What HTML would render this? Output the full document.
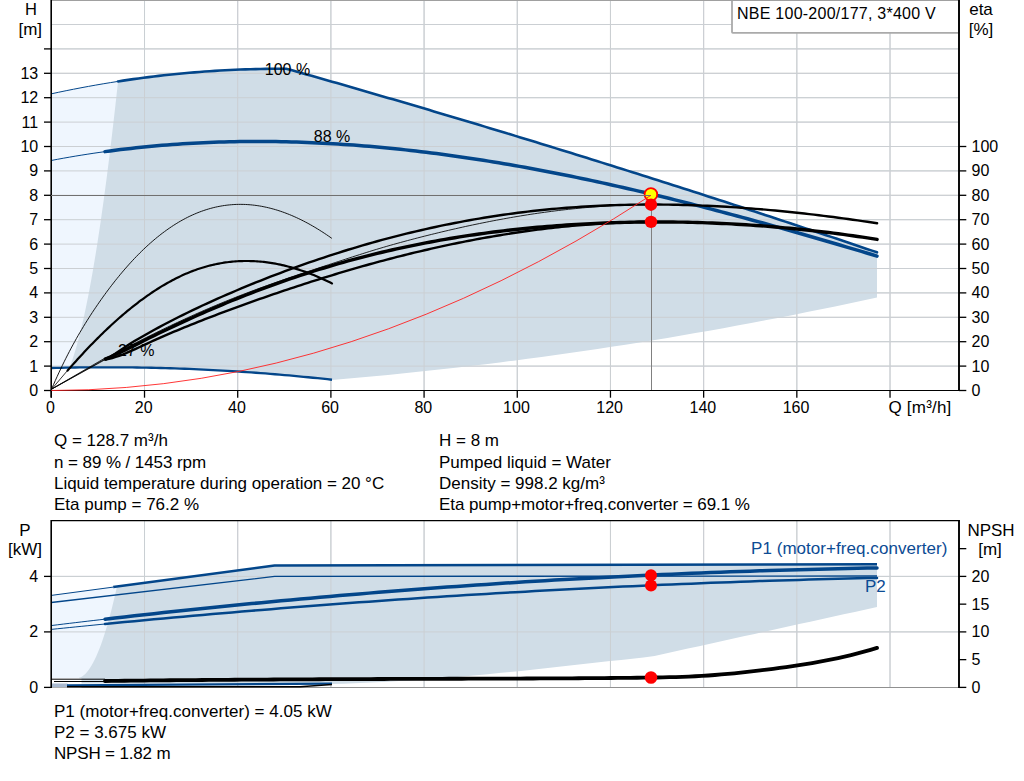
<!DOCTYPE html>
<html><head><meta charset="utf-8"><style>
html,body{margin:0;padding:0;background:#fff;width:1024px;height:781px;overflow:hidden}
svg{display:block}
text{font-family:"Liberation Sans",sans-serif}
</style></head><body>
<svg width="1024" height="781" viewBox="0 0 1024 781">
<rect width="1024" height="781" fill="#fff"/>
<line x1="144.51799999999997" y1="0" x2="144.51799999999997" y2="390.5" stroke="#cbcfd3" stroke-width="1"/>
<line x1="237.70599999999996" y1="0" x2="237.70599999999996" y2="390.5" stroke="#cbcfd3" stroke-width="1"/>
<line x1="330.89399999999995" y1="0" x2="330.89399999999995" y2="390.5" stroke="#cbcfd3" stroke-width="1"/>
<line x1="424.08199999999994" y1="0" x2="424.08199999999994" y2="390.5" stroke="#cbcfd3" stroke-width="1"/>
<line x1="517.27" y1="0" x2="517.27" y2="390.5" stroke="#cbcfd3" stroke-width="1"/>
<line x1="610.458" y1="0" x2="610.458" y2="390.5" stroke="#cbcfd3" stroke-width="1"/>
<line x1="703.646" y1="0" x2="703.646" y2="390.5" stroke="#cbcfd3" stroke-width="1"/>
<line x1="796.834" y1="0" x2="796.834" y2="390.5" stroke="#cbcfd3" stroke-width="1"/>
<line x1="890.022" y1="0" x2="890.022" y2="390.5" stroke="#cbcfd3" stroke-width="1"/>
<line x1="51" y1="366.1" x2="959" y2="366.1" stroke="#cbcfd3" stroke-width="1"/>
<line x1="51" y1="341.7" x2="959" y2="341.7" stroke="#cbcfd3" stroke-width="1"/>
<line x1="51" y1="317.3" x2="959" y2="317.3" stroke="#cbcfd3" stroke-width="1"/>
<line x1="51" y1="292.9" x2="959" y2="292.9" stroke="#cbcfd3" stroke-width="1"/>
<line x1="51" y1="268.5" x2="959" y2="268.5" stroke="#cbcfd3" stroke-width="1"/>
<line x1="51" y1="244.10000000000002" x2="959" y2="244.10000000000002" stroke="#cbcfd3" stroke-width="1"/>
<line x1="51" y1="219.70000000000002" x2="959" y2="219.70000000000002" stroke="#cbcfd3" stroke-width="1"/>
<line x1="51" y1="195.3" x2="959" y2="195.3" stroke="#cbcfd3" stroke-width="1"/>
<line x1="51" y1="170.9" x2="959" y2="170.9" stroke="#cbcfd3" stroke-width="1"/>
<line x1="51" y1="146.5" x2="959" y2="146.5" stroke="#cbcfd3" stroke-width="1"/>
<line x1="51" y1="122.10000000000002" x2="959" y2="122.10000000000002" stroke="#cbcfd3" stroke-width="1"/>
<line x1="51" y1="97.70000000000005" x2="959" y2="97.70000000000005" stroke="#cbcfd3" stroke-width="1"/>
<line x1="51" y1="73.30000000000001" x2="959" y2="73.30000000000001" stroke="#cbcfd3" stroke-width="1"/>
<line x1="51" y1="48.900000000000034" x2="959" y2="48.900000000000034" stroke="#cbcfd3" stroke-width="1"/>
<line x1="51" y1="24.5" x2="959" y2="24.5" stroke="#cbcfd3" stroke-width="1"/>
<path d="M51.33,93.82 L51.33,93.82 L54.04,93.23 L56.76,92.65 L59.47,92.08 L62.18,91.52 L64.89,90.96 L67.61,90.40 L70.32,89.86 L73.03,89.32 L75.74,88.79 L78.46,88.27 L81.17,87.75 L83.88,87.24 L86.60,86.73 L89.31,86.24 L92.02,85.75 L94.73,85.27 L97.45,84.79 L100.16,84.32 L102.87,83.86 L105.59,83.40 L108.30,82.96 L111.01,82.52 L113.72,82.08 L116.44,81.66 L119.15,81.24 L121.86,80.82 L124.57,80.42 L127.29,80.02 L130.00,79.62 L130.00,367.41 L51.33,368.02 Z" fill="#eff6fe"/>
<path d="M118.02,81.41 L123.11,80.63 L128.21,79.88 L133.30,79.16 L138.39,78.46 L143.49,77.78 L148.58,77.13 L153.68,76.50 L158.77,75.89 L163.86,75.31 L168.96,74.76 L174.05,74.23 L179.14,73.72 L184.24,73.24 L189.33,72.79 L194.43,72.35 L199.52,71.95 L204.61,71.56 L209.71,71.21 L214.80,70.87 L219.90,70.56 L224.99,70.28 L230.08,70.02 L235.18,69.78 L240.27,69.57 L245.36,69.38 L250.46,69.22 L255.55,69.08 L260.65,68.97 L265.74,68.88 L270.83,68.82 L275.93,68.78 L281.02,68.76 L286.12,68.77 L291.21,70.04 L296.30,71.48 L301.40,72.93 L306.49,74.38 L311.58,75.83 L316.68,77.28 L321.77,78.74 L326.87,80.19 L331.96,81.65 L337.05,83.12 L342.15,84.58 L347.24,86.05 L352.34,87.52 L357.43,88.99 L362.52,90.47 L367.62,91.94 L372.71,93.42 L377.80,94.91 L382.90,96.39 L387.99,97.88 L393.09,99.37 L398.18,100.86 L403.27,102.36 L408.37,103.85 L413.46,105.35 L418.55,106.86 L423.65,108.36 L428.74,109.87 L433.84,111.38 L438.93,112.89 L444.02,114.41 L449.12,115.93 L454.21,117.45 L459.31,118.97 L464.40,120.49 L469.49,122.02 L474.59,123.55 L479.68,125.08 L484.77,126.62 L489.87,128.16 L494.96,129.70 L500.06,131.24 L505.15,132.79 L510.24,134.33 L515.34,135.88 L520.43,137.44 L525.53,138.99 L530.62,140.55 L535.71,142.11 L540.81,143.67 L545.90,145.24 L550.99,146.81 L556.09,148.38 L561.18,149.95 L566.28,151.52 L571.37,153.10 L576.46,154.68 L581.56,156.26 L586.65,157.85 L591.75,159.44 L596.84,161.03 L601.93,162.62 L607.03,164.22 L612.12,165.81 L617.21,167.41 L622.31,169.02 L627.40,170.62 L632.50,172.23 L637.59,173.84 L642.68,175.45 L647.78,177.07 L652.87,178.69 L657.97,180.31 L663.06,181.93 L668.15,183.56 L673.25,185.18 L678.34,186.81 L683.43,188.45 L688.53,190.08 L693.62,191.72 L698.72,193.36 L703.81,195.00 L708.90,196.65 L714.00,198.30 L719.09,199.95 L724.18,201.60 L729.28,203.26 L734.37,204.91 L739.47,206.57 L744.56,208.24 L749.65,209.90 L754.75,211.57 L759.84,213.24 L764.94,214.91 L770.03,216.59 L775.12,218.27 L780.22,219.95 L785.31,221.63 L790.40,223.32 L795.50,225.01 L800.59,226.70 L805.69,228.39 L810.78,230.08 L815.87,231.78 L820.97,233.48 L826.06,235.19 L831.16,236.89 L836.25,238.60 L841.34,240.31 L846.44,242.02 L851.53,243.74 L856.62,245.46 L861.72,247.18 L866.81,248.90 L871.91,250.63 L877.00,252.35 L877.00,297.43 L877.00,297.43 L863.03,300.47 L849.05,303.45 L835.08,306.39 L821.10,309.28 L807.13,312.12 L793.15,314.91 L779.18,317.66 L765.21,320.35 L751.23,323.00 L737.26,325.60 L723.28,328.15 L709.31,330.66 L695.33,333.11 L681.36,335.52 L667.38,337.88 L653.41,340.19 L639.44,342.45 L625.46,344.67 L611.49,346.83 L597.51,348.95 L583.54,351.02 L569.56,353.05 L555.59,355.02 L541.62,356.95 L527.64,358.82 L513.67,360.65 L499.69,362.43 L485.72,364.17 L471.74,365.85 L457.77,367.49 L443.79,369.08 L429.82,370.62 L415.85,372.11 L401.87,373.56 L387.90,374.95 L373.92,376.30 L359.95,377.60 L345.97,378.85 L332.00,380.06 L332.00,379.75 L322.95,378.77 L313.90,377.83 L304.85,376.93 L295.80,376.07 L286.75,375.25 L277.70,374.47 L268.64,373.73 L259.59,373.03 L250.54,372.37 L241.49,371.75 L232.44,371.17 L223.39,370.63 L214.34,370.13 L205.29,369.67 L196.24,369.25 L187.19,368.87 L178.14,368.54 L169.09,368.24 L160.04,367.98 L150.98,367.76 L141.93,367.58 L132.88,367.45 L123.83,367.35 L114.78,367.29 L105.73,367.28 L96.68,367.30 L87.63,367.36 L78.58,367.47 L69.53,367.61 L69.53,367.50 L72.23,360.17 L74.62,352.84 L76.78,345.51 L78.78,338.18 L80.64,330.85 L82.38,323.51 L84.04,316.18 L85.62,308.85 L87.12,301.52 L88.57,294.19 L89.96,286.86 L91.30,279.53 L92.60,272.20 L93.86,264.87 L95.08,257.54 L96.27,250.21 L97.43,242.88 L98.56,235.54 L99.67,228.21 L100.75,220.88 L101.80,213.55 L102.84,206.22 L103.85,198.89 L104.85,191.56 L105.83,184.23 L106.79,176.90 L107.73,169.57 L108.66,162.24 L109.57,154.90 L110.47,147.57 L111.36,140.24 L112.23,132.91 L113.09,125.58 L113.94,118.25 L114.77,110.92 L115.60,103.59 L116.42,96.26 L117.22,88.93 L118.02,81.60 Z" fill="#d0dde7"/>
<line x1="144.51799999999997" y1="0" x2="144.51799999999997" y2="390.5" stroke="#cbcfd3" stroke-width="1"/>
<line x1="237.70599999999996" y1="0" x2="237.70599999999996" y2="390.5" stroke="#cbcfd3" stroke-width="1"/>
<line x1="330.89399999999995" y1="0" x2="330.89399999999995" y2="390.5" stroke="#cbcfd3" stroke-width="1"/>
<line x1="424.08199999999994" y1="0" x2="424.08199999999994" y2="390.5" stroke="#cbcfd3" stroke-width="1"/>
<line x1="517.27" y1="0" x2="517.27" y2="390.5" stroke="#cbcfd3" stroke-width="1"/>
<line x1="610.458" y1="0" x2="610.458" y2="390.5" stroke="#cbcfd3" stroke-width="1"/>
<line x1="703.646" y1="0" x2="703.646" y2="390.5" stroke="#cbcfd3" stroke-width="1"/>
<line x1="796.834" y1="0" x2="796.834" y2="390.5" stroke="#cbcfd3" stroke-width="1"/>
<line x1="890.022" y1="0" x2="890.022" y2="390.5" stroke="#cbcfd3" stroke-width="1"/>
<line x1="51" y1="366.1" x2="959" y2="366.1" stroke="#cbcfd3" stroke-width="1"/>
<line x1="51" y1="341.7" x2="959" y2="341.7" stroke="#cbcfd3" stroke-width="1"/>
<line x1="51" y1="317.3" x2="959" y2="317.3" stroke="#cbcfd3" stroke-width="1"/>
<line x1="51" y1="292.9" x2="959" y2="292.9" stroke="#cbcfd3" stroke-width="1"/>
<line x1="51" y1="268.5" x2="959" y2="268.5" stroke="#cbcfd3" stroke-width="1"/>
<line x1="51" y1="244.10000000000002" x2="959" y2="244.10000000000002" stroke="#cbcfd3" stroke-width="1"/>
<line x1="51" y1="219.70000000000002" x2="959" y2="219.70000000000002" stroke="#cbcfd3" stroke-width="1"/>
<line x1="51" y1="195.3" x2="959" y2="195.3" stroke="#cbcfd3" stroke-width="1"/>
<line x1="51" y1="170.9" x2="959" y2="170.9" stroke="#cbcfd3" stroke-width="1"/>
<line x1="51" y1="146.5" x2="959" y2="146.5" stroke="#cbcfd3" stroke-width="1"/>
<line x1="51" y1="122.10000000000002" x2="959" y2="122.10000000000002" stroke="#cbcfd3" stroke-width="1"/>
<line x1="51" y1="97.70000000000005" x2="959" y2="97.70000000000005" stroke="#cbcfd3" stroke-width="1"/>
<line x1="51" y1="73.30000000000001" x2="959" y2="73.30000000000001" stroke="#cbcfd3" stroke-width="1"/>
<line x1="51" y1="48.900000000000034" x2="959" y2="48.900000000000034" stroke="#cbcfd3" stroke-width="1"/>
<line x1="51" y1="24.5" x2="959" y2="24.5" stroke="#cbcfd3" stroke-width="1"/>
<line x1="51" y1="0.5" x2="959" y2="0.5" stroke="#a0a0a0" stroke-width="1"/>
<path d="M51.33,93.82 L58.74,92.23 L66.15,90.70 L73.56,89.22 L80.97,87.79 L88.38,86.41 L95.79,85.08 L103.20,83.80 L110.61,82.58 L118.02,81.41" fill="none" stroke="#03468a" stroke-width="1"/>
<path d="M118.02,81.41 L123.11,80.63 L128.21,79.88 L133.30,79.16 L138.39,78.46 L143.49,77.78 L148.58,77.13 L153.68,76.50 L158.77,75.89 L163.86,75.31 L168.96,74.76 L174.05,74.23 L179.14,73.72 L184.24,73.24 L189.33,72.79 L194.43,72.35 L199.52,71.95 L204.61,71.56 L209.71,71.21 L214.80,70.87 L219.90,70.56 L224.99,70.28 L230.08,70.02 L235.18,69.78 L240.27,69.57 L245.36,69.38 L250.46,69.22 L255.55,69.08 L260.65,68.97 L265.74,68.88 L270.83,68.82 L275.93,68.78 L281.02,68.76 L286.12,68.77 L291.21,70.04 L296.30,71.48 L301.40,72.93 L306.49,74.38 L311.58,75.83 L316.68,77.28 L321.77,78.74 L326.87,80.19 L331.96,81.65 L337.05,83.12 L342.15,84.58 L347.24,86.05 L352.34,87.52 L357.43,88.99 L362.52,90.47 L367.62,91.94 L372.71,93.42 L377.80,94.91 L382.90,96.39 L387.99,97.88 L393.09,99.37 L398.18,100.86 L403.27,102.36 L408.37,103.85 L413.46,105.35 L418.55,106.86 L423.65,108.36 L428.74,109.87 L433.84,111.38 L438.93,112.89 L444.02,114.41 L449.12,115.93 L454.21,117.45 L459.31,118.97 L464.40,120.49 L469.49,122.02 L474.59,123.55 L479.68,125.08 L484.77,126.62 L489.87,128.16 L494.96,129.70 L500.06,131.24 L505.15,132.79 L510.24,134.33 L515.34,135.88 L520.43,137.44 L525.53,138.99 L530.62,140.55 L535.71,142.11 L540.81,143.67 L545.90,145.24 L550.99,146.81 L556.09,148.38 L561.18,149.95 L566.28,151.52 L571.37,153.10 L576.46,154.68 L581.56,156.26 L586.65,157.85 L591.75,159.44 L596.84,161.03 L601.93,162.62 L607.03,164.22 L612.12,165.81 L617.21,167.41 L622.31,169.02 L627.40,170.62 L632.50,172.23 L637.59,173.84 L642.68,175.45 L647.78,177.07 L652.87,178.69 L657.97,180.31 L663.06,181.93 L668.15,183.56 L673.25,185.18 L678.34,186.81 L683.43,188.45 L688.53,190.08 L693.62,191.72 L698.72,193.36 L703.81,195.00 L708.90,196.65 L714.00,198.30 L719.09,199.95 L724.18,201.60 L729.28,203.26 L734.37,204.91 L739.47,206.57 L744.56,208.24 L749.65,209.90 L754.75,211.57 L759.84,213.24 L764.94,214.91 L770.03,216.59 L775.12,218.27 L780.22,219.95 L785.31,221.63 L790.40,223.32 L795.50,225.01 L800.59,226.70 L805.69,228.39 L810.78,230.08 L815.87,231.78 L820.97,233.48 L826.06,235.19 L831.16,236.89 L836.25,238.60 L841.34,240.31 L846.44,242.02 L851.53,243.74 L856.62,245.46 L861.72,247.18 L866.81,248.90 L871.91,250.63 L877.00,252.35" fill="none" stroke="#03468a" stroke-width="2.6" stroke-linecap="round" stroke-linejoin="round"/>
<path d="M51.33,160.46 L57.29,159.33 L63.26,158.24 L69.22,157.19 L75.18,156.17 L81.15,155.19 L87.11,154.25 L93.07,153.34 L99.04,152.47 L105.00,151.63" fill="none" stroke="#03468a" stroke-width="1"/>
<path d="M105.00,151.63 L110.18,150.93 L115.36,150.26 L120.54,149.61 L125.72,148.99 L130.91,148.40 L136.09,147.83 L141.27,147.28 L146.45,146.77 L151.63,146.27 L156.81,145.81 L161.99,145.36 L167.17,144.94 L172.36,144.55 L177.54,144.18 L182.72,143.84 L187.90,143.51 L193.08,143.22 L198.26,142.95 L203.44,142.70 L208.62,142.47 L213.81,142.27 L218.99,142.09 L224.17,141.93 L229.35,141.80 L234.53,141.69 L239.71,141.60 L244.89,141.54 L250.07,141.50 L255.26,141.48 L260.44,141.48 L265.62,141.50 L270.80,141.55 L275.98,141.61 L281.16,141.70 L286.34,141.81 L291.52,141.94 L296.70,142.10 L301.89,142.27 L307.07,142.46 L312.25,142.68 L317.43,142.91 L322.61,143.17 L327.79,143.44 L332.97,143.74 L338.15,144.05 L343.34,144.39 L348.52,144.74 L353.70,145.11 L358.88,145.51 L364.06,145.92 L369.24,146.35 L374.42,146.80 L379.60,147.27 L384.79,147.75 L389.97,148.26 L395.15,148.78 L400.33,149.32 L405.51,149.88 L410.69,150.46 L415.87,151.05 L421.05,151.66 L426.23,152.29 L431.42,152.94 L436.60,153.60 L441.78,154.28 L446.96,154.98 L452.14,155.69 L457.32,156.42 L462.50,157.17 L467.68,157.93 L472.87,158.71 L478.05,159.50 L483.23,160.31 L488.41,161.13 L493.59,161.97 L498.77,162.83 L503.95,163.70 L509.13,164.58 L514.32,165.48 L519.50,166.40 L524.68,167.33 L529.86,168.27 L535.04,169.23 L540.22,170.20 L545.40,171.18 L550.58,172.18 L555.77,173.19 L560.95,174.22 L566.13,175.26 L571.31,176.31 L576.49,177.37 L581.67,178.45 L586.85,179.54 L592.03,180.64 L597.21,181.76 L602.40,182.88 L607.58,184.02 L612.76,185.17 L617.94,186.34 L623.12,187.51 L628.30,188.70 L633.48,189.89 L638.66,191.10 L643.85,192.32 L649.03,193.55 L654.21,194.79 L659.39,196.04 L664.57,197.30 L669.75,198.57 L674.93,199.86 L680.11,201.15 L685.30,202.45 L690.48,203.76 L695.66,205.08 L700.84,206.41 L706.02,207.75 L711.20,209.10 L716.38,210.45 L721.56,211.82 L726.74,213.19 L731.93,214.58 L737.11,215.97 L742.29,217.37 L747.47,218.77 L752.65,220.19 L757.83,221.61 L763.01,223.04 L768.19,224.48 L773.38,225.92 L778.56,227.37 L783.74,228.83 L788.92,230.30 L794.10,231.77 L799.28,233.25 L804.46,234.73 L809.64,236.22 L814.83,237.72 L820.01,239.22 L825.19,240.73 L830.37,242.25 L835.55,243.77 L840.73,245.29 L845.91,246.82 L851.09,248.36 L856.28,249.90 L861.46,251.44 L866.64,252.99 L871.82,254.54 L877.00,256.10" fill="none" stroke="#03468a" stroke-width="3.5" stroke-linecap="round"/>
<path d="M51.33,368.02 L56.09,367.90 L60.84,367.79 L65.60,367.69 L70.36,367.60 L75.12,367.52 L79.87,367.45 L84.63,367.39 L89.39,367.35 L94.14,367.31 L98.90,367.29 L103.66,367.28 L108.42,367.28 L113.17,367.29 L117.93,367.31 L122.69,367.34 L127.44,367.38 L132.20,367.44 L136.96,367.50 L141.72,367.58 L146.47,367.67 L151.23,367.77 L155.99,367.88 L160.74,368.00 L165.50,368.13 L170.26,368.27 L175.02,368.43 L179.77,368.59 L184.53,368.77 L189.29,368.96 L194.04,369.16 L198.80,369.37 L203.56,369.59 L208.31,369.82 L213.07,370.06 L217.83,370.32 L222.59,370.58 L227.34,370.86 L232.10,371.15 L236.86,371.45 L241.61,371.76 L246.37,372.08 L251.13,372.41 L255.89,372.75 L260.64,373.11 L265.40,373.47 L270.16,373.85 L274.91,374.24 L279.67,374.63 L284.43,375.04 L289.19,375.47 L293.94,375.90 L298.70,376.34 L303.46,376.79 L308.21,377.26 L312.97,377.74 L317.73,378.22 L322.49,378.72 L327.24,379.23 L332.00,379.75" fill="none" stroke="#03468a" stroke-width="2.3"/>
<text x="118" y="355.9" font-size="16" fill="#000">27 %</text>
<path d="M51.80,388.60 L53.56,384.54 L55.32,380.56 L57.08,376.65 L58.84,372.83 L60.61,369.08 L62.37,365.41 L64.13,361.81 L65.89,358.28 L67.65,354.82 L69.41,351.43 L71.17,348.10 L72.93,344.84 L74.69,341.63 L76.45,338.48 L78.22,335.39 L79.98,332.36 L81.74,329.38 L83.50,326.45 L85.26,323.57 L87.02,320.73 L88.78,317.95 L90.54,315.21 L92.30,312.51 L94.06,309.86 L95.83,307.24 L97.59,304.66 L99.35,302.12 L101.11,299.61 L102.87,297.14 L104.63,294.70 L106.39,292.30 L108.15,289.93 L109.91,287.59 L111.67,285.29 L113.44,283.02 L115.20,280.78 L116.96,278.58 L118.72,276.41 L120.48,274.27 L122.24,272.17 L124.00,270.10 L125.76,268.07 L127.52,266.07 L129.28,264.10 L131.05,262.16 L132.81,260.26 L134.57,258.39 L136.33,256.55 L138.09,254.75 L139.85,252.98 L141.61,251.24 L143.37,249.54 L145.13,247.86 L146.89,246.22 L148.66,244.62 L150.42,243.04 L152.18,241.50 L153.94,239.99 L155.70,238.51 L157.46,237.07 L159.22,235.66 L160.98,234.28 L162.74,232.93 L164.50,231.61 L166.27,230.33 L168.03,229.08 L169.79,227.86 L171.55,226.67 L173.31,225.51 L175.07,224.39 L176.83,223.30 L178.59,222.23 L180.35,221.21 L182.11,220.21 L183.88,219.24 L185.64,218.31 L187.40,217.40 L189.16,216.53 L190.92,215.69 L192.68,214.88 L194.44,214.11 L196.20,213.36 L197.96,212.64 L199.72,211.96 L201.49,211.30 L203.25,210.68 L205.01,210.08 L206.77,209.52 L208.53,208.99 L210.29,208.48 L212.05,208.01 L213.81,207.56 L215.57,207.15 L217.33,206.76 L219.10,206.41 L220.86,206.08 L222.62,205.78 L224.38,205.51 L226.14,205.27 L227.90,205.06 L229.66,204.88 L231.42,204.72 L233.18,204.59 L234.94,204.49 L236.71,204.42 L238.47,204.38 L240.23,204.36 L241.99,204.38 L243.75,204.41 L245.51,204.48 L247.27,204.57 L249.03,204.69 L250.79,204.84 L252.55,205.02 L254.32,205.22 L256.08,205.44 L257.84,205.70 L259.60,205.98 L261.36,206.28 L263.12,206.61 L264.88,206.97 L266.64,207.35 L268.40,207.76 L270.16,208.20 L271.93,208.66 L273.69,209.14 L275.45,209.65 L277.21,210.18 L278.97,210.74 L280.73,211.32 L282.49,211.93 L284.25,212.56 L286.01,213.22 L287.77,213.90 L289.54,214.60 L291.30,215.33 L293.06,216.08 L294.82,216.86 L296.58,217.66 L298.34,218.48 L300.10,219.32 L301.86,220.19 L303.62,221.08 L305.38,222.00 L307.15,222.93 L308.91,223.89 L310.67,224.87 L312.43,225.88 L314.19,226.90 L315.95,227.95 L317.71,229.02 L319.47,230.11 L321.23,231.22 L322.99,232.35 L324.76,233.51 L326.52,234.68 L328.28,235.88 L330.04,237.10 L331.80,238.33" fill="none" stroke="#000" stroke-width="0.9"/>
<path d="M67.60,370.55 L69.26,368.65 L70.93,366.75 L72.59,364.88 L74.25,363.01 L75.91,361.16 L77.58,359.32 L79.24,357.50 L80.90,355.69 L82.57,353.89 L84.23,352.11 L85.89,350.34 L87.55,348.58 L89.22,346.84 L90.88,345.11 L92.54,343.40 L94.21,341.70 L95.87,340.02 L97.53,338.35 L99.19,336.70 L100.86,335.06 L102.52,333.43 L104.18,331.83 L105.85,330.23 L107.51,328.65 L109.17,327.09 L110.84,325.55 L112.50,324.01 L114.16,322.50 L115.82,321.00 L117.49,319.52 L119.15,318.05 L120.81,316.60 L122.48,315.16 L124.14,313.75 L125.80,312.34 L127.46,310.96 L129.13,309.59 L130.79,308.24 L132.45,306.91 L134.12,305.59 L135.78,304.29 L137.44,303.01 L139.10,301.74 L140.77,300.49 L142.43,299.26 L144.09,298.05 L145.76,296.86 L147.42,295.68 L149.08,294.53 L150.74,293.39 L152.41,292.26 L154.07,291.16 L155.73,290.08 L157.40,289.01 L159.06,287.97 L160.72,286.94 L162.38,285.93 L164.05,284.94 L165.71,283.97 L167.37,283.02 L169.04,282.09 L170.70,281.17 L172.36,280.28 L174.03,279.41 L175.69,278.56 L177.35,277.72 L179.01,276.91 L180.68,276.12 L182.34,275.35 L184.00,274.59 L185.67,273.86 L187.33,273.15 L188.99,272.46 L190.65,271.79 L192.32,271.15 L193.98,270.52 L195.64,269.91 L197.31,269.33 L198.97,268.76 L200.63,268.22 L202.29,267.69 L203.96,267.19 L205.62,266.70 L207.28,266.24 L208.95,265.80 L210.61,265.37 L212.27,264.97 L213.93,264.59 L215.60,264.22 L217.26,263.88 L218.92,263.56 L220.59,263.25 L222.25,262.97 L223.91,262.70 L225.57,262.46 L227.24,262.23 L228.90,262.02 L230.56,261.83 L232.23,261.66 L233.89,261.51 L235.55,261.38 L237.22,261.27 L238.88,261.17 L240.54,261.10 L242.20,261.04 L243.87,261.00 L245.53,260.98 L247.19,260.98 L248.86,261.00 L250.52,261.03 L252.18,261.09 L253.84,261.16 L255.51,261.25 L257.17,261.35 L258.83,261.48 L260.50,261.62 L262.16,261.78 L263.82,261.96 L265.48,262.16 L267.15,262.37 L268.81,262.60 L270.47,262.85 L272.14,263.11 L273.80,263.39 L275.46,263.69 L277.12,264.01 L278.79,264.34 L280.45,264.69 L282.11,265.06 L283.78,265.44 L285.44,265.84 L287.10,266.25 L288.76,266.69 L290.43,267.13 L292.09,267.60 L293.75,268.08 L295.42,268.58 L297.08,269.09 L298.74,269.62 L300.41,270.17 L302.07,270.73 L303.73,271.30 L305.39,271.90 L307.06,272.50 L308.72,273.13 L310.38,273.77 L312.05,274.42 L313.71,275.09 L315.37,275.78 L317.03,276.48 L318.70,277.19 L320.36,277.92 L322.02,278.67 L323.69,279.42 L325.35,280.20 L327.01,280.99 L328.67,281.79 L330.34,282.61 L332.00,283.44" fill="none" stroke="#000" stroke-width="2.2" stroke-linecap="round"/>
<line x1="51.8" y1="389" x2="67.6" y2="370.4" stroke="#000" stroke-width="0.8"/>
<path d="M105.40,358.88 L110.25,356.73 L115.11,353.80 L119.96,350.49 L124.81,347.19 L129.67,344.06 L134.52,341.08 L139.37,338.21 L144.23,335.42 L149.08,332.69 L153.93,330.01 L158.79,327.37 L163.64,324.78 L168.49,322.23 L173.35,319.73 L178.20,317.26 L183.06,314.84 L187.91,312.46 L192.76,310.11 L197.62,307.80 L202.47,305.53 L207.32,303.29 L212.18,301.08 L217.03,298.91 L221.88,296.76 L226.74,294.64 L231.59,292.55 L236.44,290.49 L241.30,288.45 L246.15,286.43 L251.00,284.44 L255.86,282.48 L260.71,280.54 L265.56,278.62 L270.42,276.72 L275.27,274.86 L280.12,273.01 L284.98,271.19 L289.83,269.40 L294.68,267.63 L299.54,265.88 L304.39,264.16 L309.25,262.46 L314.10,260.79 L318.95,259.14 L323.81,257.52 L328.66,255.92 L333.51,254.34 L338.37,252.79 L343.22,251.27 L348.07,249.77 L352.93,248.29 L357.78,246.84 L362.63,245.41 L367.49,244.01 L372.34,242.63 L377.19,241.28 L382.05,239.95 L386.90,238.65 L391.75,237.37 L396.61,236.11 L401.46,234.88 L406.31,233.68 L411.17,232.50 L416.02,231.34 L420.87,230.21 L425.73,229.10 L430.58,228.02 L435.44,226.97 L440.29,225.94 L445.14,224.93 L450.00,223.95 L454.85,222.99 L459.70,222.06 L464.56,221.15 L469.41,220.27 L474.26,219.41 L479.12,218.57 L483.97,217.77 L488.82,216.98 L493.68,216.22 L498.53,215.49 L503.38,214.78 L508.24,214.10 L513.09,213.44 L517.94,212.80 L522.80,212.20 L527.65,211.61 L532.50,211.05 L537.36,210.52 L542.21,210.00 L547.06,209.52 L551.92,209.05 L556.77,208.61 L561.63,208.20 L566.48,207.81 L571.33,207.44 L576.19,207.09 L581.04,206.77 L585.89,206.47 L590.75,206.19 L595.60,205.93 L600.45,205.70 L605.31,205.48 L610.16,205.29 L615.01,205.12 L619.87,204.98 L624.72,204.85 L629.57,204.75 L634.43,204.66 L639.28,204.60 L644.13,204.56 L648.99,204.53 L653.84,204.53 L658.69,204.55 L663.55,204.59 L668.40,204.64 L673.25,204.72 L678.11,204.82 L682.96,204.93 L687.82,205.07 L692.67,205.22 L697.52,205.39 L702.38,205.58 L707.23,205.79 L712.08,206.02 L716.94,206.26 L721.79,206.52 L726.64,206.80 L731.50,207.10 L736.35,207.42 L741.20,207.75 L746.06,208.10 L750.91,208.46 L755.76,208.84 L760.62,209.24 L765.47,209.66 L770.32,210.09 L775.18,210.53 L780.03,211.00 L784.88,211.47 L789.74,211.97 L794.59,212.47 L799.44,213.00 L804.30,213.53 L809.15,214.09 L814.01,214.65 L818.86,215.24 L823.71,215.83 L828.57,216.44 L833.42,217.06 L838.27,217.70 L843.13,218.35 L847.98,219.01 L852.83,219.69 L857.69,220.38 L862.54,221.08 L867.39,221.79 L872.25,222.52 L877.10,223.26" fill="none" stroke="#000" stroke-width="2.4" stroke-linecap="round"/>
<path d="M105.40,358.83 L108.83,356.98 L112.26,355.15 L115.69,353.33 L119.13,351.51 L122.56,349.71 L125.99,347.92 L129.42,346.13 L132.85,344.36 L136.28,342.60 L139.71,340.85 L143.15,339.11 L146.58,337.39 L150.01,335.68 L153.44,333.98 L156.87,332.29 L160.30,330.61 L163.73,328.95 L167.17,327.30 L170.60,325.66 L174.03,324.04 L177.46,322.43 L180.89,320.84 L184.32,319.25 L187.75,317.68 L191.19,316.13 L194.62,314.59 L198.05,313.06 L201.48,311.55 L204.91,310.06 L208.34,308.57 L211.77,307.11 L215.21,305.66 L218.64,304.22 L222.07,302.80 L225.50,301.39 L228.93,300.00 L232.36,298.63 L235.79,297.27 L239.23,295.92 L242.66,294.60 L246.09,293.28 L249.52,291.99 L252.95,290.70 L256.38,289.43 L259.82,288.18 L263.25,286.93 L266.68,285.70 L270.11,284.48 L273.54,283.26 L276.97,282.06 L280.40,280.87 L283.84,279.68 L287.27,278.51 L290.70,277.34 L294.13,276.17 L297.56,275.02 L300.99,273.86 L304.42,272.72 L307.86,271.58 L311.29,270.44 L314.72,269.30 L318.15,268.17 L321.58,267.04 L325.01,265.91 L328.44,264.78 L331.88,263.65 L335.31,262.52 L338.74,261.40 L342.17,260.27 L345.60,259.15 L349.03,258.03 L352.46,256.92 L355.90,255.81 L359.33,254.72 L362.76,253.63 L366.19,252.55 L369.62,251.48 L373.05,250.42 L376.48,249.38 L379.92,248.35 L383.35,247.34 L386.78,246.34 L390.21,245.35 L393.64,244.38 L397.07,243.42 L400.50,242.48 L403.94,241.55 L407.37,240.62 L410.80,239.71 L414.23,238.81 L417.66,237.92 L421.09,237.04 L424.52,236.17 L427.96,235.31 L431.39,234.45 L434.82,233.61 L438.25,232.77 L441.68,231.95 L445.11,231.13 L448.54,230.33 L451.98,229.53 L455.41,228.75 L458.84,227.97 L462.27,227.21 L465.70,226.45 L469.13,225.71 L472.56,224.98 L476.00,224.26 L479.43,223.55 L482.86,222.85 L486.29,222.16 L489.72,221.48 L493.15,220.81 L496.58,220.16 L500.02,219.52 L503.45,218.89 L506.88,218.27 L510.31,217.66 L513.74,217.07 L517.17,216.49 L520.61,215.92 L524.04,215.36 L527.47,214.81 L530.90,214.28 L534.33,213.76 L537.76,213.26 L541.19,212.77 L544.63,212.29 L548.06,211.82 L551.49,211.37 L554.92,210.93 L558.35,210.51 L561.78,210.10 L565.21,209.70 L568.65,209.32 L572.08,208.95 L575.51,208.60 L578.94,208.26 L582.37,207.93 L585.80,207.62 L589.23,207.33 L592.67,207.05 L596.10,206.78 L599.53,206.53 L602.96,206.30 L606.39,206.08 L609.82,205.88 L613.25,205.69 L616.69,205.52 L620.12,205.36 L623.55,205.22 L626.98,205.10 L630.41,204.99 L633.84,204.90 L637.27,204.83 L640.71,204.77 L644.14,204.73 L647.57,204.71 L651.00,204.71" fill="none" stroke="#000" stroke-width="0.85"/>
<path d="M105.40,359.07 L110.25,357.00 L115.11,354.82 L119.96,352.55 L124.81,350.21 L129.67,347.81 L134.52,345.38 L139.37,342.94 L144.23,340.50 L149.08,338.08 L153.93,335.69 L158.79,333.32 L163.64,330.98 L168.49,328.66 L173.35,326.37 L178.20,324.10 L183.06,321.85 L187.91,319.63 L192.76,317.44 L197.62,315.27 L202.47,313.13 L207.32,311.01 L212.18,308.92 L217.03,306.85 L221.88,304.81 L226.74,302.79 L231.59,300.80 L236.44,298.84 L241.30,296.90 L246.15,294.99 L251.00,293.10 L255.86,291.24 L260.71,289.41 L265.56,287.60 L270.42,285.82 L275.27,284.07 L280.12,282.34 L284.98,280.64 L289.83,278.97 L294.68,277.32 L299.54,275.70 L304.39,274.10 L309.25,272.54 L314.10,271.00 L318.95,269.48 L323.81,268.00 L328.66,266.54 L333.51,265.11 L338.37,263.71 L343.22,262.33 L348.07,260.98 L352.93,259.66 L357.78,258.36 L362.63,257.09 L367.49,255.85 L372.34,254.63 L377.19,253.44 L382.05,252.27 L386.90,251.13 L391.75,250.02 L396.61,248.92 L401.46,247.86 L406.31,246.82 L411.17,245.80 L416.02,244.81 L420.87,243.84 L425.73,242.89 L430.58,241.97 L435.44,241.07 L440.29,240.20 L445.14,239.35 L450.00,238.52 L454.85,237.71 L459.70,236.93 L464.56,236.17 L469.41,235.43 L474.26,234.71 L479.12,234.02 L483.97,233.35 L488.82,232.69 L493.68,232.06 L498.53,231.45 L503.38,230.86 L508.24,230.29 L513.09,229.75 L517.94,229.22 L522.80,228.71 L527.65,228.22 L532.50,227.75 L537.36,227.30 L542.21,226.87 L547.06,226.46 L551.92,226.07 L556.77,225.70 L561.63,225.34 L566.48,225.00 L571.33,224.69 L576.19,224.39 L581.04,224.10 L585.89,223.84 L590.75,223.59 L595.60,223.36 L600.45,223.15 L605.31,222.95 L610.16,222.77 L615.01,222.61 L619.87,222.47 L624.72,222.34 L629.57,222.23 L634.43,222.14 L639.28,222.06 L644.13,222.01 L648.99,221.97 L653.84,221.94 L658.69,221.94 L663.55,221.95 L668.40,221.98 L673.25,222.02 L678.11,222.09 L682.96,222.17 L687.82,222.26 L692.67,222.38 L697.52,222.51 L702.38,222.66 L707.23,222.83 L712.08,223.01 L716.94,223.21 L721.79,223.43 L726.64,223.66 L731.50,223.92 L736.35,224.19 L741.20,224.47 L746.06,224.78 L750.91,225.10 L755.76,225.43 L760.62,225.79 L765.47,226.16 L770.32,226.55 L775.18,226.96 L780.03,227.38 L784.88,227.82 L789.74,228.28 L794.59,228.75 L799.44,229.24 L804.30,229.75 L809.15,230.28 L814.01,230.82 L818.86,231.38 L823.71,231.95 L828.57,232.55 L833.42,233.16 L838.27,233.78 L843.13,234.43 L847.98,235.09 L852.83,235.77 L857.69,236.46 L862.54,237.17 L867.39,237.90 L872.25,238.65 L877.10,239.41" fill="none" stroke="#000" stroke-width="3.4" stroke-linecap="round"/>
<path d="M105.40,359.54 L108.83,358.85 L112.26,357.99 L115.69,356.96 L119.13,355.80 L122.56,354.52 L125.99,353.15 L129.42,351.69 L132.85,350.16 L136.28,348.59 L139.71,347.00 L143.15,345.40 L146.58,343.81 L150.01,342.24 L153.44,340.68 L156.87,339.15 L160.30,337.63 L163.73,336.13 L167.17,334.64 L170.60,333.17 L174.03,331.71 L177.46,330.27 L180.89,328.85 L184.32,327.43 L187.75,326.03 L191.19,324.65 L194.62,323.27 L198.05,321.91 L201.48,320.56 L204.91,319.22 L208.34,317.90 L211.77,316.58 L215.21,315.27 L218.64,313.97 L222.07,312.68 L225.50,311.40 L228.93,310.13 L232.36,308.87 L235.79,307.61 L239.23,306.36 L242.66,305.11 L246.09,303.87 L249.52,302.64 L252.95,301.42 L256.38,300.20 L259.82,298.99 L263.25,297.79 L266.68,296.59 L270.11,295.40 L273.54,294.22 L276.97,293.04 L280.40,291.88 L283.84,290.72 L287.27,289.56 L290.70,288.42 L294.13,287.28 L297.56,286.15 L300.99,285.03 L304.42,283.91 L307.86,282.80 L311.29,281.70 L314.72,280.61 L318.15,279.53 L321.58,278.45 L325.01,277.39 L328.44,276.33 L331.88,275.28 L335.31,274.23 L338.74,273.20 L342.17,272.17 L345.60,271.16 L349.03,270.15 L352.46,269.15 L355.90,268.15 L359.33,267.17 L362.76,266.20 L366.19,265.23 L369.62,264.28 L373.05,263.33 L376.48,262.39 L379.92,261.46 L383.35,260.54 L386.78,259.63 L390.21,258.73 L393.64,257.84 L397.07,256.96 L400.50,256.09 L403.94,255.22 L407.37,254.37 L410.80,253.53 L414.23,252.69 L417.66,251.87 L421.09,251.06 L424.52,250.25 L427.96,249.46 L431.39,248.67 L434.82,247.90 L438.25,247.14 L441.68,246.38 L445.11,245.64 L448.54,244.91 L451.98,244.19 L455.41,243.48 L458.84,242.77 L462.27,242.08 L465.70,241.40 L469.13,240.73 L472.56,240.08 L476.00,239.43 L479.43,238.79 L482.86,238.17 L486.29,237.55 L489.72,236.95 L493.15,236.35 L496.58,235.77 L500.02,235.20 L503.45,234.64 L506.88,234.09 L510.31,233.55 L513.74,233.03 L517.17,232.51 L520.61,232.01 L524.04,231.52 L527.47,231.04 L530.90,230.57 L534.33,230.11 L537.76,229.67 L541.19,229.24 L544.63,228.81 L548.06,228.40 L551.49,228.01 L554.92,227.62 L558.35,227.25 L561.78,226.88 L565.21,226.53 L568.65,226.20 L572.08,225.87 L575.51,225.56 L578.94,225.26 L582.37,224.97 L585.80,224.69 L589.23,224.43 L592.67,224.18 L596.10,223.94 L599.53,223.71 L602.96,223.50 L606.39,223.30 L609.82,223.11 L613.25,222.94 L616.69,222.77 L620.12,222.63 L623.55,222.49 L626.98,222.37 L630.41,222.26 L633.84,222.16 L637.27,222.07 L640.71,222.00 L644.14,221.95 L647.57,221.90 L651.00,221.87" fill="none" stroke="#000" stroke-width="2.4" stroke-linecap="round"/>
<line x1="51.8" y1="389" x2="105.4" y2="358.8" stroke="#000" stroke-width="0.8"/>
<line x1="51.8" y1="389" x2="105.4" y2="359.5" stroke="#000" stroke-width="0.8"/>
<line x1="51.8" y1="389" x2="105.4" y2="357.8" stroke="#000" stroke-width="0.8"/>
<line x1="651.5" y1="195" x2="651.5" y2="390.5" stroke="#808080" stroke-width="1"/>
<rect x="732" y="-2" width="227" height="34.8" rx="0.8" fill="#fff" stroke="#aaaaaa" stroke-width="1.8"/>
<line x1="51" y1="0.5" x2="959" y2="0.5" stroke="#a0a0a0" stroke-width="1"/>
<line x1="51.2" y1="0" x2="51.2" y2="397.5" stroke="#000" stroke-width="1.6"/>
<line x1="959" y1="0" x2="959" y2="391" stroke="#000" stroke-width="1.9"/>
<line x1="44" y1="390.5" x2="959.5" y2="390.5" stroke="#000" stroke-width="1.2"/>
<line x1="44" y1="390.5" x2="51.3" y2="390.5" stroke="#000" stroke-width="1.3"/>
<line x1="44" y1="366.1" x2="51.3" y2="366.1" stroke="#000" stroke-width="1.3"/>
<line x1="44" y1="341.7" x2="51.3" y2="341.7" stroke="#000" stroke-width="1.3"/>
<line x1="44" y1="317.3" x2="51.3" y2="317.3" stroke="#000" stroke-width="1.3"/>
<line x1="44" y1="292.9" x2="51.3" y2="292.9" stroke="#000" stroke-width="1.3"/>
<line x1="44" y1="268.5" x2="51.3" y2="268.5" stroke="#000" stroke-width="1.3"/>
<line x1="44" y1="244.10000000000002" x2="51.3" y2="244.10000000000002" stroke="#000" stroke-width="1.3"/>
<line x1="44" y1="219.70000000000002" x2="51.3" y2="219.70000000000002" stroke="#000" stroke-width="1.3"/>
<line x1="44" y1="195.3" x2="51.3" y2="195.3" stroke="#000" stroke-width="1.3"/>
<line x1="44" y1="170.9" x2="51.3" y2="170.9" stroke="#000" stroke-width="1.3"/>
<line x1="44" y1="146.5" x2="51.3" y2="146.5" stroke="#000" stroke-width="1.3"/>
<line x1="44" y1="122.10000000000002" x2="51.3" y2="122.10000000000002" stroke="#000" stroke-width="1.3"/>
<line x1="44" y1="97.70000000000005" x2="51.3" y2="97.70000000000005" stroke="#000" stroke-width="1.3"/>
<line x1="44" y1="73.30000000000001" x2="51.3" y2="73.30000000000001" stroke="#000" stroke-width="1.3"/>
<line x1="44" y1="48.900000000000034" x2="51.3" y2="48.900000000000034" stroke="#000" stroke-width="1.3"/>
<line x1="959" y1="390.5" x2="966.3" y2="390.5" stroke="#000" stroke-width="1.3"/>
<line x1="959" y1="366.1" x2="966.3" y2="366.1" stroke="#000" stroke-width="1.3"/>
<line x1="959" y1="341.7" x2="966.3" y2="341.7" stroke="#000" stroke-width="1.3"/>
<line x1="959" y1="317.3" x2="966.3" y2="317.3" stroke="#000" stroke-width="1.3"/>
<line x1="959" y1="292.9" x2="966.3" y2="292.9" stroke="#000" stroke-width="1.3"/>
<line x1="959" y1="268.5" x2="966.3" y2="268.5" stroke="#000" stroke-width="1.3"/>
<line x1="959" y1="244.10000000000002" x2="966.3" y2="244.10000000000002" stroke="#000" stroke-width="1.3"/>
<line x1="959" y1="219.70000000000002" x2="966.3" y2="219.70000000000002" stroke="#000" stroke-width="1.3"/>
<line x1="959" y1="195.3" x2="966.3" y2="195.3" stroke="#000" stroke-width="1.3"/>
<line x1="959" y1="170.9" x2="966.3" y2="170.9" stroke="#000" stroke-width="1.3"/>
<line x1="959" y1="146.5" x2="966.3" y2="146.5" stroke="#000" stroke-width="1.3"/>
<line x1="51.33" y1="390.5" x2="51.33" y2="397.7" stroke="#000" stroke-width="1.3"/>
<line x1="144.51799999999997" y1="390.5" x2="144.51799999999997" y2="397.7" stroke="#000" stroke-width="1.3"/>
<line x1="237.70599999999996" y1="390.5" x2="237.70599999999996" y2="397.7" stroke="#000" stroke-width="1.3"/>
<line x1="330.89399999999995" y1="390.5" x2="330.89399999999995" y2="397.7" stroke="#000" stroke-width="1.3"/>
<line x1="424.08199999999994" y1="390.5" x2="424.08199999999994" y2="397.7" stroke="#000" stroke-width="1.3"/>
<line x1="517.27" y1="390.5" x2="517.27" y2="397.7" stroke="#000" stroke-width="1.3"/>
<line x1="610.458" y1="390.5" x2="610.458" y2="397.7" stroke="#000" stroke-width="1.3"/>
<line x1="703.646" y1="390.5" x2="703.646" y2="397.7" stroke="#000" stroke-width="1.3"/>
<line x1="796.834" y1="390.5" x2="796.834" y2="397.7" stroke="#000" stroke-width="1.3"/>
<line x1="890.022" y1="390.5" x2="890.022" y2="397.7" stroke="#000" stroke-width="1.3"/>
<circle cx="650.9" cy="194.4" r="6.3" fill="#ffff00" stroke="#ff0000" stroke-width="1.8"/>
<line x1="51" y1="195.5" x2="651" y2="195.5" stroke="#707070" stroke-width="1"/>
<path d="M51.33,390.5 Q351.17,390.5 651,195.3" fill="none" stroke="#ff2020" stroke-width="0.9"/>
<circle cx="651" cy="204.7" r="6.2" fill="#ff0000"/>
<circle cx="651" cy="221.9" r="6.2" fill="#ff0000"/>
<line x1="144.51799999999997" y1="520.5" x2="144.51799999999997" y2="687.5" stroke="#cbcfd3" stroke-width="1"/>
<line x1="237.70599999999996" y1="520.5" x2="237.70599999999996" y2="687.5" stroke="#cbcfd3" stroke-width="1"/>
<line x1="330.89399999999995" y1="520.5" x2="330.89399999999995" y2="687.5" stroke="#cbcfd3" stroke-width="1"/>
<line x1="424.08199999999994" y1="520.5" x2="424.08199999999994" y2="687.5" stroke="#cbcfd3" stroke-width="1"/>
<line x1="517.27" y1="520.5" x2="517.27" y2="687.5" stroke="#cbcfd3" stroke-width="1"/>
<line x1="610.458" y1="520.5" x2="610.458" y2="687.5" stroke="#cbcfd3" stroke-width="1"/>
<line x1="703.646" y1="520.5" x2="703.646" y2="687.5" stroke="#cbcfd3" stroke-width="1"/>
<line x1="796.834" y1="520.5" x2="796.834" y2="687.5" stroke="#cbcfd3" stroke-width="1"/>
<line x1="890.022" y1="520.5" x2="890.022" y2="687.5" stroke="#cbcfd3" stroke-width="1"/>
<line x1="51" y1="631.9" x2="959" y2="631.9" stroke="#cbcfd3" stroke-width="1"/>
<line x1="51" y1="576.4" x2="959" y2="576.4" stroke="#cbcfd3" stroke-width="1"/>
<path d="M51.33,595.40 L120.00,586.20 L120.00,678.80 L51.33,678.80 Z" fill="#eff6fe"/>
<path d="M79.00,678.80 L79.00,677.87 L80.56,677.28 L82.12,676.42 L83.69,675.29 L85.25,673.89 L86.81,672.21 L88.38,670.26 L89.94,668.04 L91.50,665.55 L93.06,662.78 L94.62,659.75 L96.19,656.44 L97.75,652.86 L99.31,649.00 L100.88,644.88 L102.44,640.48 L104.00,635.81 L105.56,630.87 L107.12,625.66 L108.69,620.17 L110.25,614.41 L111.81,608.38 L113.38,602.08 L114.94,595.51 L116.50,588.66 L116.50,586.67 L274.60,565.50 L877.00,564.30 L877.00,607.00 L877.00,607.00 L865.88,609.45 L854.76,611.89 L843.63,614.34 L832.51,616.78 L821.39,619.23 L810.27,621.68 L799.14,624.12 L788.02,626.57 L776.90,629.01 L765.78,631.46 L754.65,633.91 L743.53,636.35 L732.41,638.80 L721.29,641.24 L710.16,643.69 L699.04,646.14 L687.92,648.58 L676.80,651.03 L665.67,653.47 L654.55,655.92 L643.43,657.51 L632.31,658.71 L621.18,659.91 L610.06,661.11 L598.94,662.32 L587.82,663.55 L576.69,664.80 L565.57,666.07 L554.45,667.32 L543.33,668.56 L532.20,669.76 L521.08,670.90 L509.96,671.99 L498.84,673.08 L487.71,674.16 L476.59,675.22 L465.47,676.25 L454.35,677.23 L443.22,678.15 L432.10,678.99 L420.98,679.75 L409.86,680.43 L398.73,681.07 L387.61,681.68 L376.49,682.24 L365.37,682.76 L354.24,683.23 L343.12,683.65 L332.00,684.00 L332.00,683.50 L79.00,683.50 Z" fill="#d0dde7"/>
<line x1="144.51799999999997" y1="520.5" x2="144.51799999999997" y2="687.5" stroke="#cbcfd3" stroke-width="1"/>
<line x1="237.70599999999996" y1="520.5" x2="237.70599999999996" y2="687.5" stroke="#cbcfd3" stroke-width="1"/>
<line x1="330.89399999999995" y1="520.5" x2="330.89399999999995" y2="687.5" stroke="#cbcfd3" stroke-width="1"/>
<line x1="424.08199999999994" y1="520.5" x2="424.08199999999994" y2="687.5" stroke="#cbcfd3" stroke-width="1"/>
<line x1="517.27" y1="520.5" x2="517.27" y2="687.5" stroke="#cbcfd3" stroke-width="1"/>
<line x1="610.458" y1="520.5" x2="610.458" y2="687.5" stroke="#cbcfd3" stroke-width="1"/>
<line x1="703.646" y1="520.5" x2="703.646" y2="687.5" stroke="#cbcfd3" stroke-width="1"/>
<line x1="796.834" y1="520.5" x2="796.834" y2="687.5" stroke="#cbcfd3" stroke-width="1"/>
<line x1="890.022" y1="520.5" x2="890.022" y2="687.5" stroke="#cbcfd3" stroke-width="1"/>
<line x1="51" y1="631.9" x2="959" y2="631.9" stroke="#cbcfd3" stroke-width="1"/>
<line x1="51" y1="576.4" x2="959" y2="576.4" stroke="#cbcfd3" stroke-width="1"/>
<line x1="51" y1="687.5" x2="959" y2="687.5" stroke="#909090" stroke-width="1.1"/>
<path d="M51.33,595.40 L113.20,587.11" fill="none" stroke="#03468a" stroke-width="1"/>
<path d="M113.20,587.11 L274.60,565.50 L877.00,564.30" fill="none" stroke="#03468a" stroke-width="2.5" stroke-linejoin="round"/>
<path d="M51.33,602.50 L274.60,576.40 L877.00,576.00" fill="none" stroke="#03468a" stroke-width="1.3"/>
<path d="M51.33,625.55 L57.30,624.82 L63.28,624.09 L69.25,623.37 L75.23,622.66 L81.20,621.95 L87.18,621.24 L93.15,620.54 L99.13,619.85 L105.10,619.15" fill="none" stroke="#03468a" stroke-width="1"/>
<path d="M105.10,619.15 L114.87,618.03 L124.64,616.92 L134.41,615.82 L144.18,614.74 L153.95,613.67 L163.73,612.60 L173.50,611.56 L183.27,610.52 L193.04,609.49 L202.81,608.48 L212.58,607.48 L222.35,606.49 L232.12,605.52 L241.89,604.55 L251.66,603.60 L261.43,602.66 L271.21,601.73 L280.98,600.82 L290.75,599.91 L300.52,599.02 L310.29,598.14 L320.06,597.28 L329.83,596.42 L339.60,595.58 L349.37,594.75 L359.14,593.93 L368.91,593.12 L378.68,592.33 L388.46,591.55 L398.23,590.78 L408.00,590.02 L417.77,589.27 L427.54,588.54 L437.31,587.82 L447.08,587.11 L456.85,586.41 L466.62,585.73 L476.39,585.05 L486.16,584.39 L495.94,583.74 L505.71,583.11 L515.48,582.48 L525.25,581.87 L535.02,581.27 L544.79,580.68 L554.56,580.11 L564.33,579.54 L574.10,578.99 L583.87,578.45 L593.64,577.92 L603.42,577.41 L613.19,576.91 L622.96,576.42 L632.73,575.94 L642.50,575.47 L652.27,575.02 L662.04,574.57 L671.81,574.14 L681.58,573.72 L691.35,573.32 L701.12,572.93 L710.89,572.54 L720.67,572.17 L730.44,571.82 L740.21,571.47 L749.98,571.14 L759.75,570.82 L769.52,570.51 L779.29,570.21 L789.06,569.93 L798.83,569.65 L808.60,569.39 L818.37,569.15 L828.15,568.91 L837.92,568.69 L847.69,568.47 L857.46,568.27 L867.23,568.09 L877.00,567.91" fill="none" stroke="#03468a" stroke-width="3.5" stroke-linecap="round"/>
<path d="M51.33,629.39 L57.29,628.78 L63.26,628.17 L69.22,627.57 L75.18,626.96 L81.15,626.36 L87.11,625.77 L93.07,625.18 L99.04,624.59 L105.00,624.01" fill="none" stroke="#03468a" stroke-width="1"/>
<path d="M105.00,624.01 L114.77,623.06 L124.54,622.11 L134.32,621.18 L144.09,620.26 L153.86,619.35 L163.63,618.44 L173.41,617.55 L183.18,616.67 L192.95,615.79 L202.72,614.92 L212.49,614.07 L222.27,613.22 L232.04,612.38 L241.81,611.56 L251.58,610.74 L261.35,609.93 L271.13,609.13 L280.90,608.34 L290.67,607.56 L300.44,606.78 L310.22,606.02 L319.99,605.27 L329.76,604.53 L339.53,603.79 L349.30,603.07 L359.08,602.35 L368.85,601.65 L378.62,600.95 L388.39,600.26 L398.16,599.58 L407.94,598.92 L417.71,598.26 L427.48,597.61 L437.25,596.97 L447.03,596.34 L456.80,595.72 L466.57,595.10 L476.34,594.50 L486.11,593.91 L495.89,593.33 L505.66,592.75 L515.43,592.19 L525.20,591.63 L534.97,591.09 L544.75,590.55 L554.52,590.02 L564.29,589.50 L574.06,589.00 L583.84,588.50 L593.61,588.01 L603.38,587.53 L613.15,587.06 L622.92,586.59 L632.70,586.14 L642.47,585.70 L652.24,585.27 L662.01,584.84 L671.78,584.43 L681.56,584.02 L691.33,583.63 L701.10,583.24 L710.87,582.87 L720.65,582.50 L730.42,582.14 L740.19,581.79 L749.96,581.45 L759.73,581.12 L769.51,580.80 L779.28,580.49 L789.05,580.19 L798.82,579.90 L808.59,579.62 L818.37,579.34 L828.14,579.08 L837.91,578.82 L847.68,578.58 L857.46,578.34 L867.23,578.12 L877.00,577.90" fill="none" stroke="#03468a" stroke-width="2.5" stroke-linecap="round"/>
<rect x="51.5" y="678.3" width="30" height="9" fill="#fff"/>
<line x1="51.33" y1="679.2" x2="105" y2="679.2" stroke="#000" stroke-width="1"/>
<line x1="54" y1="681.5" x2="105" y2="681.5" stroke="#000" stroke-width="1"/>
<rect x="51.5" y="683.5" width="16" height="3.5" fill="#a9b9cf"/>
<path d="M67,685.3 L332,683.6" fill="none" stroke="#03468a" stroke-width="2.2"/>
<path d="M67,686.8 L300,686.8 L332,684.5" fill="none" stroke="#000" stroke-width="1.6"/>
<path d="M105.00,681.00 L111.49,680.92 L117.97,680.84 L124.46,680.76 L130.95,680.68 L137.44,680.61 L143.92,680.54 L150.41,680.47 L156.90,680.40 L163.39,680.34 L169.87,680.27 L176.36,680.21 L182.85,680.15 L189.34,680.09 L195.82,680.04 L202.31,679.98 L208.80,679.93 L215.29,679.88 L221.77,679.83 L228.26,679.78 L234.75,679.74 L241.24,679.69 L247.72,679.65 L254.21,679.61 L260.70,679.57 L267.18,679.53 L273.67,679.49 L280.16,679.45 L286.65,679.42 L293.13,679.38 L299.62,679.35 L306.11,679.32 L312.60,679.28 L319.08,679.25 L325.57,679.22 L332.06,679.20 L338.55,679.17 L345.03,679.14 L351.52,679.11 L358.01,679.09 L364.50,679.06 L370.98,679.04 L377.47,679.01 L383.96,678.99 L390.45,678.97 L396.93,678.94 L403.42,678.92 L409.91,678.90 L416.39,678.88 L422.88,678.86 L429.37,678.83 L435.86,678.81 L442.34,678.79 L448.83,678.77 L455.32,678.75 L461.81,678.73 L468.29,678.71 L474.78,678.69 L481.27,678.66 L487.76,678.64 L494.24,678.62 L500.73,678.60 L507.22,678.57 L513.71,678.55 L520.19,678.53 L526.68,678.50 L533.17,678.48 L539.66,678.45 L546.14,678.42 L552.63,678.39 L559.12,678.36 L565.61,678.32 L572.09,678.28 L578.58,678.24 L585.07,678.20 L591.55,678.16 L598.04,678.11 L604.53,678.05 L611.02,678.00 L617.50,677.94 L623.99,677.88 L630.48,677.81 L636.97,677.74 L643.45,677.66 L649.94,677.57 L656.43,677.48 L662.92,677.36 L669.40,677.21 L675.89,677.04 L682.38,676.83 L688.87,676.57 L695.35,676.27 L701.84,675.91 L708.33,675.49 L714.82,675.01 L721.30,674.48 L727.79,673.90 L734.28,673.27 L740.76,672.61 L747.25,671.91 L753.74,671.18 L760.23,670.42 L766.71,669.63 L773.20,668.80 L779.69,667.94 L786.18,667.05 L792.66,666.11 L799.15,665.12 L805.64,664.09 L812.13,663.01 L818.61,661.87 L825.10,660.66 L831.59,659.38 L838.08,658.02 L844.56,656.58 L851.05,655.05 L857.54,653.42 L864.03,651.69 L870.51,649.85 L877.00,647.90" fill="none" stroke="#000" stroke-width="3.8" stroke-linecap="round"/>
<line x1="51.2" y1="520" x2="51.2" y2="688" stroke="#000" stroke-width="1.6"/>
<line x1="959" y1="520" x2="959" y2="688" stroke="#000" stroke-width="1.9"/>
<line x1="51" y1="520.6" x2="959.5" y2="520.6" stroke="#000" stroke-width="1.2"/>
<line x1="44" y1="687.4" x2="51.3" y2="687.4" stroke="#000" stroke-width="1.3"/>
<line x1="44" y1="631.9" x2="51.3" y2="631.9" stroke="#000" stroke-width="1.3"/>
<line x1="44" y1="576.4" x2="51.3" y2="576.4" stroke="#000" stroke-width="1.3"/>
<line x1="959" y1="687.4" x2="966.3" y2="687.4" stroke="#000" stroke-width="1.3"/>
<line x1="959" y1="659.65" x2="966.3" y2="659.65" stroke="#000" stroke-width="1.3"/>
<line x1="959" y1="631.9" x2="966.3" y2="631.9" stroke="#000" stroke-width="1.3"/>
<line x1="959" y1="604.15" x2="966.3" y2="604.15" stroke="#000" stroke-width="1.3"/>
<line x1="959" y1="576.4" x2="966.3" y2="576.4" stroke="#000" stroke-width="1.3"/>
<line x1="959" y1="548.65" x2="966.3" y2="548.65" stroke="#000" stroke-width="1.3"/>
<circle cx="651" cy="575.2" r="6" fill="#ff0000"/>
<circle cx="651" cy="585.4" r="6" fill="#ff0000"/>
<circle cx="651" cy="677.5" r="6.3" fill="#ff0000"/>
<text x="38.2" y="396.0" text-anchor="end" font-size="16" fill="#000" letter-spacing="0">0</text>
<text x="38.2" y="371.6" text-anchor="end" font-size="16" fill="#000" letter-spacing="0">1</text>
<text x="38.2" y="347.2" text-anchor="end" font-size="16" fill="#000" letter-spacing="0">2</text>
<text x="38.2" y="322.8" text-anchor="end" font-size="16" fill="#000" letter-spacing="0">3</text>
<text x="38.2" y="298.4" text-anchor="end" font-size="16" fill="#000" letter-spacing="0">4</text>
<text x="38.2" y="274.0" text-anchor="end" font-size="16" fill="#000" letter-spacing="0">5</text>
<text x="38.2" y="249.60000000000002" text-anchor="end" font-size="16" fill="#000" letter-spacing="0">6</text>
<text x="38.2" y="225.20000000000002" text-anchor="end" font-size="16" fill="#000" letter-spacing="0">7</text>
<text x="38.2" y="200.8" text-anchor="end" font-size="16" fill="#000" letter-spacing="0">8</text>
<text x="38.2" y="176.4" text-anchor="end" font-size="16" fill="#000" letter-spacing="0">9</text>
<text x="38.2" y="152.0" text-anchor="end" font-size="16" fill="#000" letter-spacing="0">10</text>
<text x="38.2" y="127.60000000000002" text-anchor="end" font-size="16" fill="#000" letter-spacing="0">11</text>
<text x="38.2" y="103.20000000000005" text-anchor="end" font-size="16" fill="#000" letter-spacing="0">12</text>
<text x="38.2" y="78.80000000000001" text-anchor="end" font-size="16" fill="#000" letter-spacing="0">13</text>
<text x="31" y="15" text-anchor="middle" font-size="16.5" fill="#000" letter-spacing="0">H</text>
<text x="30.3" y="35" text-anchor="middle" font-size="17" fill="#000" letter-spacing="0">[m]</text>
<text x="971.5" y="396.0" text-anchor="start" font-size="16" fill="#000" letter-spacing="0">0</text>
<text x="971.5" y="371.6" text-anchor="start" font-size="16" fill="#000" letter-spacing="0">10</text>
<text x="971.5" y="347.2" text-anchor="start" font-size="16" fill="#000" letter-spacing="0">20</text>
<text x="971.5" y="322.8" text-anchor="start" font-size="16" fill="#000" letter-spacing="0">30</text>
<text x="971.5" y="298.4" text-anchor="start" font-size="16" fill="#000" letter-spacing="0">40</text>
<text x="971.5" y="274.0" text-anchor="start" font-size="16" fill="#000" letter-spacing="0">50</text>
<text x="971.5" y="249.60000000000002" text-anchor="start" font-size="16" fill="#000" letter-spacing="0">60</text>
<text x="971.5" y="225.20000000000002" text-anchor="start" font-size="16" fill="#000" letter-spacing="0">70</text>
<text x="971.5" y="200.8" text-anchor="start" font-size="16" fill="#000" letter-spacing="0">80</text>
<text x="971.5" y="176.4" text-anchor="start" font-size="16" fill="#000" letter-spacing="0">90</text>
<text x="971.5" y="152.0" text-anchor="start" font-size="16" fill="#000" letter-spacing="0">100</text>
<text x="981" y="15" text-anchor="middle" font-size="17" fill="#000" letter-spacing="0">eta</text>
<text x="981" y="35" text-anchor="middle" font-size="17" fill="#000" letter-spacing="0">[%]</text>
<text x="50.53" y="412.8" text-anchor="middle" font-size="16" fill="#000" letter-spacing="0">0</text>
<text x="143.71799999999996" y="412.8" text-anchor="middle" font-size="16" fill="#000" letter-spacing="0">20</text>
<text x="236.90599999999995" y="412.8" text-anchor="middle" font-size="16" fill="#000" letter-spacing="0">40</text>
<text x="330.09399999999994" y="412.8" text-anchor="middle" font-size="16" fill="#000" letter-spacing="0">60</text>
<text x="423.2819999999999" y="412.8" text-anchor="middle" font-size="16" fill="#000" letter-spacing="0">80</text>
<text x="516.47" y="412.8" text-anchor="middle" font-size="16" fill="#000" letter-spacing="0">100</text>
<text x="609.658" y="412.8" text-anchor="middle" font-size="16" fill="#000" letter-spacing="0">120</text>
<text x="702.846" y="412.8" text-anchor="middle" font-size="16" fill="#000" letter-spacing="0">140</text>
<text x="796.034" y="412.8" text-anchor="middle" font-size="16" fill="#000" letter-spacing="0">160</text>
<text x="888.5" y="412.8" text-anchor="start" font-size="17" fill="#000" letter-spacing="0.2">Q [m³/h]</text>
<text x="737" y="18.8" text-anchor="start" font-size="16" fill="#000" letter-spacing="0.25">NBE 100-200/177, 3*400 V</text>
<text x="264.8" y="74.5" text-anchor="start" font-size="16" fill="#000" letter-spacing="0">100 %</text>
<text x="313.8" y="141.9" text-anchor="start" font-size="16" fill="#000" letter-spacing="0">88 %</text>
<text x="54" y="446" text-anchor="start" font-size="17" fill="#000" letter-spacing="0">Q = 128.7 m³/h</text>
<text x="54" y="467.5" text-anchor="start" font-size="17" fill="#000" letter-spacing="-0.08">n = 89 % / 1453 rpm</text>
<text x="54" y="489" text-anchor="start" font-size="17" fill="#000" letter-spacing="-0.03">Liquid temperature during operation = 20 °C</text>
<text x="54" y="509.6" text-anchor="start" font-size="17" fill="#000" letter-spacing="0">Eta pump = 76.2 %</text>
<text x="439" y="446" text-anchor="start" font-size="17" fill="#000" letter-spacing="0">H = 8 m</text>
<text x="439" y="467.5" text-anchor="start" font-size="17" fill="#000" letter-spacing="0">Pumped liquid = Water</text>
<text x="439" y="489" text-anchor="start" font-size="17" fill="#000" letter-spacing="0">Density = 998.2 kg/m³</text>
<text x="439" y="509.6" text-anchor="start" font-size="17" fill="#000" letter-spacing="-0.065">Eta pump+motor+freq.converter = 69.1 %</text>
<text x="54" y="717.0" text-anchor="start" font-size="17" fill="#000" letter-spacing="0.03">P1 (motor+freq.converter) = 4.05 kW</text>
<text x="54" y="738.2" text-anchor="start" font-size="17" fill="#000" letter-spacing="0">P2 = 3.675 kW</text>
<text x="54" y="759.4" text-anchor="start" font-size="17" fill="#000" letter-spacing="-0.17">NPSH = 1.82 m</text>
<text x="38.2" y="692.9" text-anchor="end" font-size="16" fill="#000" letter-spacing="0">0</text>
<text x="38.2" y="637.4" text-anchor="end" font-size="16" fill="#000" letter-spacing="0">2</text>
<text x="38.2" y="581.9" text-anchor="end" font-size="16" fill="#000" letter-spacing="0">4</text>
<text x="25" y="536" text-anchor="middle" font-size="17" fill="#000" letter-spacing="0">P</text>
<text x="25" y="554.5" text-anchor="middle" font-size="17" fill="#000" letter-spacing="0">[kW]</text>
<text x="971.5" y="692.9" text-anchor="start" font-size="16" fill="#000" letter-spacing="0">0</text>
<text x="971.5" y="665.15" text-anchor="start" font-size="16" fill="#000" letter-spacing="0">5</text>
<text x="971.5" y="637.4" text-anchor="start" font-size="16" fill="#000" letter-spacing="0">10</text>
<text x="971.5" y="609.65" text-anchor="start" font-size="16" fill="#000" letter-spacing="0">15</text>
<text x="971.5" y="581.9" text-anchor="start" font-size="16" fill="#000" letter-spacing="0">20</text>
<text x="991" y="536" text-anchor="middle" font-size="17" fill="#000" letter-spacing="0">NPSH</text>
<text x="990" y="554.5" text-anchor="middle" font-size="17" fill="#000" letter-spacing="0">[m]</text>
<text x="751" y="554" text-anchor="start" font-size="17" fill="#0c4b94" letter-spacing="0.05">P1 (motor+freq.converter)</text>
<text x="865" y="592" text-anchor="start" font-size="17" fill="#0c4b94" letter-spacing="0">P2</text>
</svg>
</body></html>
